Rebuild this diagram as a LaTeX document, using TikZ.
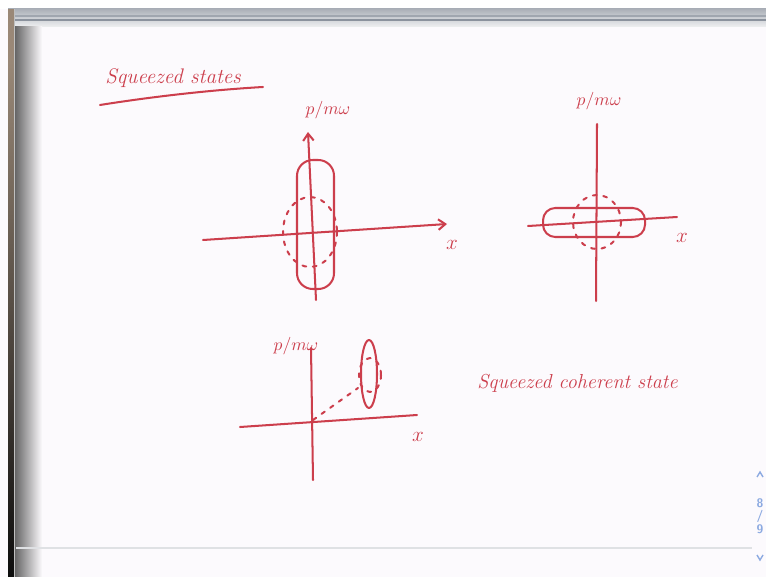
\documentclass[tikz,border=0pt]{standalone}
\usepackage{amsmath}
\usetikzlibrary{arrows.meta}

\definecolor{ink}{RGB}{204,62,76}
\definecolor{paper}{RGB}{252,250,253}
\definecolor{framegrey}{RGB}{150,156,166}
\definecolor{navblue}{RGB}{140,170,225}

\begin{document}
\begin{tikzpicture}[
        x=0.02cm, y=-0.02cm,
        % Estilos do traço a mão
        pen/.style={draw=ink, line width=1.15pt, line cap=round, line join=round},
        dots/.style={pen, dash pattern=on 2.2pt off 3.8pt},
        axisarrow/.style={pen, -{Straight Barb[length=4pt, width=6pt]}},
        handtext/.style={text=ink, font=\large\itshape, inner sep=0pt},
        axistext/.style={text=ink, font=\normalsize, inner sep=0pt},
        navtext/.style={text=navblue, font=\scriptsize\sffamily\bfseries, inner sep=0pt}
    ]

    % Janela (fundo e moldura)
    \useasboundingbox (0,0) rectangle (766,577);
    \fill[paper] (0,0) rectangle (766,577);
    \fill[white] (0,0) rectangle (766,9);
    \shade[top color=framegrey!80, bottom color=framegrey!15] (8,9) rectangle (766,27);
    \draw[framegrey!90, line width=0.8pt] (14,16) -- (766,16);
    \draw[framegrey!110, line width=1pt] (14,20) -- (766,20);
    \shade[left color=black!60, right color=paper] (15,27) rectangle (42,577);
    \fill[black!55!brown!60] (8,9) rectangle (14,60);
    \shade[top color=black!55!brown!60, bottom color=black!95] (8,60) rectangle (14,577);
    \draw[black!25, line width=0.6pt] (14.5,9) -- (14.5,577);
    \draw[framegrey!30, line width=1.6pt] (16,548) -- (752,548);

    % Navegacao lateral
    \draw[navblue, line width=0.8pt] (757,477) -- (760,472) -- (763,477);
    \node[navtext] (pgA) at (760,503) {8};
    \node[navtext] (pgS) at (760,516) {/};
    \node[navtext] (pgB) at (760,529) {9};
    \draw[navblue, line width=0.8pt] (757,555) -- (760,560) -- (763,555);

    % 1. Titulo
    \node[handtext, anchor=base west] (title) at (105,84) {Squeezed states};
    \draw[pen] (100,105) .. controls (150,97) and (210,90) .. (263,87);

    % 2. Estado comprimido em x (vertical)
    \draw[axisarrow] (203,240) -- (447,224);
    \draw[axisarrow] (316,300) -- (308,132);
    \node[axistext] (pA) at (328,110) {$p/m\omega$};
    \node[handtext] (xA) at (452,245) {$x$};
    \draw[pen, rounded corners=9pt] (297,160) rectangle (334,289);
    \draw[dots] (310,232) ellipse [x radius=27, y radius=35];

    % 3. Estado comprimido em p (horizontal)
    \draw[pen] (528,226) -- (677,217);
    \draw[pen] (597,124) -- (596,301);
    \node[axistext] (pB) at (599,101) {$p/m\omega$};
    \node[handtext] (xB) at (682,238) {$x$};
    \draw[pen, rounded corners=7pt] (543,208) rectangle (645,237);
    \draw[dots] (597,222) ellipse [x radius=24, y radius=27];

    % 4. Estado coerente comprimido
    \draw[pen] (240,427) -- (417,415);
    \draw[pen] (311,348) -- (313,480);
    \node[axistext] (pC) at (296,346) {$p/m\omega$};
    \node[handtext] (xC) at (418,437) {$x$};
    \draw[pen] (369,374) ellipse [x radius=8, y radius=34];
    \draw[dots] (370,375) ellipse [x radius=11, y radius=17];
    \coordinate (origC) at (313,420);
    \coordinate (centC) at (358,388);
    \draw[dots] (origC) -- (centC);
    \node[handtext, anchor=base west, font=\itshape\fontsize{11.5}{13}\selectfont] (coh) at (477,388) {Squeezed coherent state};

\end{tikzpicture}
\end{document}
